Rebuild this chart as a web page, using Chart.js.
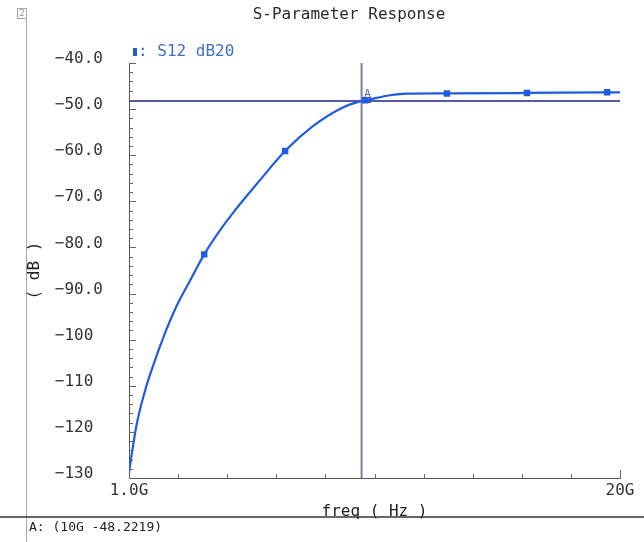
<!DOCTYPE html>
<html>
<head>
<meta charset="utf-8">
<title>S-Parameter Response</title>
<script src="https://cdn.jsdelivr.net/npm/chart.js@4.4.1/dist/chart.umd.min.js"></script>
<style>
  html, body { margin: 0; padding: 0; background: #fff; }
  canvas { display: block; }
</style>
</head>
<body>
<canvas id="myChart" width="644" height="542"></canvas>
<script>
// S12 in dB20, frequency in GHz
const freqs = [1.0, 1.3, 1.62, 1.88, 2.33, 2.85, 3.36, 3.91, 4.52, 5.04, 6.07, 7.04, 8.14, 9.18, 10.0, 10.13, 11.1, 11.75, 13.3, 16.4, 19.5, 20.0];
const s12 = [-128.7, -118.3, -111.1, -106.5, -99.5, -92.6, -87.2, -81.5, -76.3, -72.4, -65.4, -59.1, -53.6, -49.9, -48.22, -48.1, -47.0, -46.65, -46.6, -46.5, -46.35, -46.35];
const markerFreqs = [3.91, 7.04, 10.13, 13.3, 16.4, 19.5];

const xTickVals = [1.0, 2.9, 4.8, 6.7, 8.6, 10.5, 12.4, 14.3, 16.2, 18.1, 20.0];
const xTickLabels = { 1: '1.0G', 20: '20G' };
const yMinorStep = 2;

// cursor A
const cursorA = { freq: 10, value: -48.2219, label: 'A: (10G -48.2219)' };

const MONO = '"DejaVu Sans Mono", monospace';
const minus = (s) => s.replace('-', '\u2212');

const extras = {
  id: 'extras',
  beforeDatasetsDraw(chart) {
    const { ctx, chartArea: a, scales: { x, y } } = chart;
    const cx = x.getPixelForValue(cursorA.freq);
    const cy = y.getPixelForValue(cursorA.value);
    ctx.save();
    // horizontal cursor
    ctx.strokeStyle = '#1c248a';
    ctx.lineWidth = 1.5;
    ctx.beginPath();
    ctx.moveTo(a.left, cy);
    ctx.lineTo(a.right, cy);
    ctx.stroke();
    // vertical cursor
    ctx.strokeStyle = '#7e80ac';
    ctx.lineWidth = 2;
    ctx.beginPath();
    ctx.moveTo(cx, a.top);
    ctx.lineTo(cx, a.bottom);
    ctx.stroke();

    // inside ticks on both axes
    ctx.strokeStyle = '#666';
    ctx.lineWidth = 1;
    ctx.beginPath();
    for (let v = y.min; v <= y.max; v += yMinorStep) {
      const py = Math.round(y.getPixelForValue(v)) + 0.5;
      const len = v % 10 === 0 ? 7 : 4;
      ctx.moveTo(a.left, py);
      ctx.lineTo(a.left + len, py);
    }
    xTickVals.forEach((v, i) => {
      const px = Math.round(x.getPixelForValue(v)) + 0.5;
      const len = i === xTickVals.length - 1 ? 8 : 4;
      ctx.moveTo(px, a.bottom);
      ctx.lineTo(px, a.bottom - len);
    });
    ctx.stroke();
    ctx.restore();
  },
  afterDatasetsDraw(chart) {
    const { ctx, scales: { x, y } } = chart;
    const cx = x.getPixelForValue(cursorA.freq);
    const cy = y.getPixelForValue(cursorA.value);
    ctx.save();
    ctx.strokeStyle = '#2a55d0';
    ctx.lineWidth = 1;
    ctx.strokeRect(Math.round(cx) + 0.5, Math.round(cy) - 3.5, 8, 5);
    ctx.fillStyle = '#5a68b0';
    ctx.font = '11px ' + MONO;
    ctx.textAlign = 'center';
    ctx.textBaseline = 'middle';
    ctx.fillText('A', cx + 6, cy - 7);
    ctx.restore();
  },
  afterDraw(chart) {
    const { ctx, width, height } = chart;
    ctx.save();
    // panel frame
    ctx.strokeStyle = '#a8a8a8';
    ctx.lineWidth = 1;
    ctx.strokeRect(17.5, 8.5, 9, 10);
    ctx.beginPath();
    ctx.moveTo(26.5, 18);
    ctx.lineTo(26.5, height);
    ctx.stroke();
    ctx.fillStyle = '#999';
    ctx.font = '9px ' + MONO;
    ctx.textAlign = 'center';
    ctx.textBaseline = 'middle';
    ctx.fillText('2', 22, 14);

    ctx.strokeStyle = '#333';
    ctx.lineWidth = 1.5;
    ctx.beginPath();
    ctx.moveTo(0, 517);
    ctx.lineTo(width, 517);
    ctx.stroke();

    // title
    ctx.fillStyle = '#2a2a2a';
    ctx.font = '16px ' + MONO;
    ctx.fillText('S-Parameter Response', 349, 15);

    // legend
    ctx.fillStyle = '#1f5ce0';
    ctx.fillRect(133, 48, 4, 8);
    ctx.fillStyle = '#3d70c2';
    ctx.textAlign = 'left';
    ctx.fillText(': S12 dB20', 138, 52);

    // cursor readout
    ctx.fillStyle = '#222';
    ctx.font = '13px ' + MONO;
    ctx.fillText(cursorA.label, 29, 528);
    ctx.restore();
  }
};

new Chart(document.getElementById('myChart'), {
  type: 'line',
  data: {
    datasets: [
      {
        label: 'S12 dB20',
        data: freqs.map((f, i) => ({ x: f, y: s12[i] })),
        borderColor: '#1f5ce0',
        backgroundColor: '#1f5ce0',
        borderWidth: 2.2,
        cubicInterpolationMode: 'monotone',
        pointStyle: 'rect',
        pointRadius: (c) => (markerFreqs.includes(freqs[c.dataIndex]) ? 3 : 0),
        pointHoverRadius: 0,
      },
    ],
  },
  options: {
    responsive: false,
    animation: false,
    layout: { padding: { top: 63, right: 24, left: 0, bottom: 0 } },
    plugins: {
      legend: { display: false },
      tooltip: { enabled: false },
    },
    scales: {
      x: {
        type: 'linear',
        min: 1,
        max: 20,
        afterFit: (scale) => { scale.height = 64; },
        afterBuildTicks: (scale) => { scale.ticks = xTickVals.map((v) => ({ value: v })); },
        grid: { display: false, drawTicks: false },
        border: { display: true, color: '#555', width: 1 },
        ticks: {
          autoSkip: false,
          maxRotation: 0,
          padding: 3,
          color: '#333',
          font: { family: MONO, size: 16 },
          callback: (v) => xTickLabels[v] || '',
        },
        title: {
          display: true,
          text: 'freq ( Hz )',
          color: '#222',
          font: { family: MONO, size: 16 },
          padding: { top: 0, bottom: 21 },
        },
      },
      y: {
        min: -130,
        max: -40,
        afterFit: (scale) => { scale.width = 129; },
        grid: { display: false, drawTicks: false },
        border: { display: true, color: '#555', width: 1 },
        ticks: {
          stepSize: 10,
          padding: 26,
          labelOffset: -4,
          color: '#333',
          font: { family: MONO, size: 16 },
          callback: (v) => minus(v > -100 ? v.toFixed(1) : String(v) + ' '),
        },
        title: {
          display: true,
          text: '( dB )',
          color: '#222',
          font: { family: MONO, size: 16 },
          padding: { top: 25, bottom: 0 },
        },
      },
    },
  },
  plugins: [extras],
});
</script>
</body>
</html>
